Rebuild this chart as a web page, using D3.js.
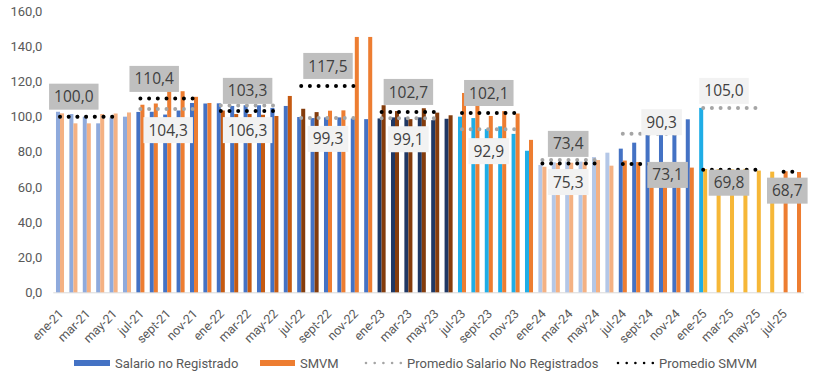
<!DOCTYPE html>
<html><head><meta charset="utf-8">
<script src="https://cdn.jsdelivr.net/npm/d3@7"></script>
<style>body{margin:0;background:#fff} svg{display:block}</style>
</head><body><svg id="c" width="818" height="379"></svg>
<script>
// ---------------- DATA ----------------
const months = [
  "ene-21","feb-21","mar-21","abr-21","may-21","jun-21","jul-21","ago-21","sept-21","oct-21","nov-21","dic-21",
  "ene-22","feb-22","mar-22","abr-22","may-22","jun-22","jul-22","ago-22","sept-22","oct-22","nov-22","dic-22",
  "ene-23","feb-23","mar-23","abr-23","may-23","jun-23","jul-23","ago-23","sept-23","oct-23","nov-23","dic-23",
  "ene-24","feb-24","mar-24","abr-24","may-24","jun-24","jul-24","ago-24","sept-24","oct-24","nov-24","dic-24",
  "ene-25","feb-25","mar-25","abr-25","may-25","jun-25","jul-25","ago-25"
];
const salario = [
  102.8,101.5,100.0,96.2,99.5,100.0,  102.7,102.8,101.2,103.5,107.8,107.5,
  107.6,106.1,106.5,106.5,105.0,106.1, 99.8,99.2,99.6,99.6,99.0,98.6,
  99.0,99.6,99.6,99.6,98.0,98.8,      100.0,99.2,92.9,94.5,90.2,80.6,
  72.5,74.0,74.4,74.4,77.0,79.5,      81.8,85.2,90.5,92.2,93.6,98.5,
  105.0,null,null,null,null,null,     null,null
];
const smvm = [
  101.9,96.2,96.2,101.5,101.8,102.4,  106.8,107.5,114.5,114.5,111.3,107.8,
  103.5,101.5,101.5,101.1,100.4,111.8, 104.5,102.6,103.4,103.6,145.4,145.4,
  106.5,103.2,98.6,104.8,102.3,100.8, 113.5,106.9,100.4,103.2,101.8,86.8,
  71.5,73.6,73.8,74.1,75.3,72.1,      75.0,74.2,73.2,72.8,72.4,71.0,
  70.2,70.1,70.0,70.3,69.3,68.7,      68.9,68.5
];
const semStart    = [0, 6, 12, 18, 24, 30, 36, 42, 48, 54];
const promSalario = [100.0,104.3,106.3,99.3,99.1,92.9,75.3,90.3,105.0,null];
const promSMVM    = [100.0,110.4,103.3,117.5,102.7,102.1,73.4,73.1,69.8,68.7];
const yTicks = [0,20,40,60,80,100,120,140,160];
const legendLabels = ["Salario no Registrado","SMVM","Promedio Salario No Registrados","Promedio SMVM"];

// ---------------- STYLE / LAYOUT ----------------
const salColors  = ['#8faadc','#4472c4','#4472c4','#4472c4','#203864','#1fade6','#b4c7e7','#4472c4','#1fade6','#1fade6'];
const smvmColors = ['#f4b183','#ed7d31','#c55a11','#ed7d31','#843c0c','#ed7d31','#f4b183','#ed7d31','#f6b737','#ed7d31'];
const smvmOverride = {18:'#843c0c', 19:'#843c0c'};
const smvmLabelOff = [[-13,-20],[-13,-19.5],[0,-20],[0,-20],[0,-20],[0,-20],[-1,-19.5],[18,11],[-1,13],[-3,19]];
const salLabelOff  = [null,[1,21],[0,24.5],[0,21],[0,21],[0,22],[-1,22],[12,-11.5],[-6,-17],null];

const svg = d3.select("#c");
const x0 = 53.3, x1 = 803.7, yBase = 292.3, yTop = 11.3;
const x = d3.scaleBand().domain(months).range([x0, x1]).paddingInner(0.4).paddingOuter(0.2);
const xs = d3.scaleBand().domain(["sal","smvm"]).range([0, x.bandwidth()]);
const y = d3.scaleLinear().domain([0,160]).range([yBase, yTop]);
const cx = i => x(months[i]) + x.bandwidth()/2;
const fmt = v => d3.format(".1f")(v).replace(".", ",");

// Y axis
const ya = svg.append("g").attr("transform", `translate(${x0},0)`)
  .call(d3.axisLeft(y).tickValues(yTicks).tickSize(0).tickPadding(11).tickFormat(fmt));
ya.select(".domain").remove();
ya.selectAll("text").attr("fill","#595959").style("font-family","Roboto, sans-serif").style("font-size","13px");

// baseline
svg.append("line").attr("x1",x0).attr("x2",x1).attr("y1",yBase+0.5).attr("y2",yBase+0.5)
  .attr("stroke","#d9d9d9").attr("stroke-width",1);

// bars
const bars = svg.append("g");
months.forEach((m,i) => {
  const s = Math.floor(i/6);
  if (salario[i] != null) {
    bars.append("rect").attr("x", x(m)+xs("sal")).attr("width", xs.bandwidth())
      .attr("y", y(salario[i])).attr("height", yBase - y(salario[i])).attr("fill", salColors[s]);
  }
  if (smvm[i] != null) {
    bars.append("rect").attr("x", x(m)+xs("smvm")).attr("width", xs.bandwidth())
      .attr("y", y(smvm[i])).attr("height", yBase - y(smvm[i])).attr("fill", smvmOverride[i] || smvmColors[s]);
  }
});

// x axis labels
const xa = svg.append("g").attr("transform", `translate(0,${yBase})`)
  .call(d3.axisBottom(x).tickValues(months.filter((d,i)=>i%2===0)).tickSize(0));
xa.select(".domain").remove();
xa.selectAll("text").attr("fill","#595959").style("font-family","Roboto, sans-serif").style("font-size","12.5px")
  .attr("text-anchor","end").attr("transform","translate(-1,17) rotate(-45)").attr("dy","0.35em").attr("dx","0");

// average lines
const lines = svg.append("g");
function segEnd(s){ return Math.min(semStart[s]+4, months.length-1); }
[[promSalario,"#a5a5a5"],[promSMVM,"#000000"]].forEach(([arr,col]) => {
  semStart.forEach((st,s) => {
    if (arr[s] == null) return;
    lines.append("line").attr("x1",cx(st)).attr("x2",cx(segEnd(s)))
      .attr("y1",y(arr[s])).attr("y2",y(arr[s]))
      .attr("stroke",col).attr("stroke-width",4).attr("stroke-linecap","round")
      .attr("stroke-dasharray","0 8.7");
  });
});

// labels
const lab = svg.append("g");
function addLabel(v, s, off, fill){
  if (v == null || off == null) return;
  const mx = (cx(semStart[s]) + cx(segEnd(s)))/2 + off[0];
  const my = y(v) + off[1];
  const g = lab.append("g");
  const t = g.append("text").text(fmt(v)).attr("x",mx).attr("y",my).attr("dy","0.36em")
    .attr("text-anchor","middle").attr("fill","#404040")
    .style("font-family","'Open Sans', sans-serif").style("font-size","15.5px");
  const w = t.node().getComputedTextLength() + 10;
  g.insert("rect","text").attr("x",mx-w/2).attr("y",my-13).attr("width",w).attr("height",26).attr("fill",fill);
}
semStart.forEach((st,s) => {
  addLabel(promSMVM[s], s, smvmLabelOff[s], "#bfbfbf");
  addLabel(promSalario[s], s, salLabelOff[s], "#f2f2f2");
});

// legend
const lg = svg.append("g").style("font-family","Roboto, sans-serif").style("font-size","13px");
const ly = 363;
lg.append("rect").attr("x",74).attr("y",ly-3).attr("width",36).attr("height",6).attr("fill","#4472c4");
lg.append("text").attr("x",115).attr("y",ly).attr("dy","0.35em").attr("fill","#595959").text(legendLabels[0]);
lg.append("rect").attr("x",260).attr("y",ly-3).attr("width",35).attr("height",6).attr("fill","#ed7d31");
lg.append("text").attr("x",300).attr("y",ly).attr("dy","0.35em").attr("fill","#595959").text(legendLabels[1]);
lg.append("line").attr("x1",366).attr("x2",401).attr("y1",ly).attr("y2",ly).attr("stroke","#a5a5a5")
  .attr("stroke-width",2.6).attr("stroke-linecap","round").attr("stroke-dasharray","0 8.7");
lg.append("text").attr("x",407).attr("y",ly).attr("dy","0.35em").attr("fill","#595959").text(legendLabels[2]);
lg.append("line").attr("x1",618).attr("x2",653).attr("y1",ly).attr("y2",ly).attr("stroke","#000")
  .attr("stroke-width",2.6).attr("stroke-linecap","round").attr("stroke-dasharray","0 8.7");
lg.append("text").attr("x",659).attr("y",ly).attr("dy","0.35em").attr("fill","#595959").text(legendLabels[3]);
</script></body></html>
